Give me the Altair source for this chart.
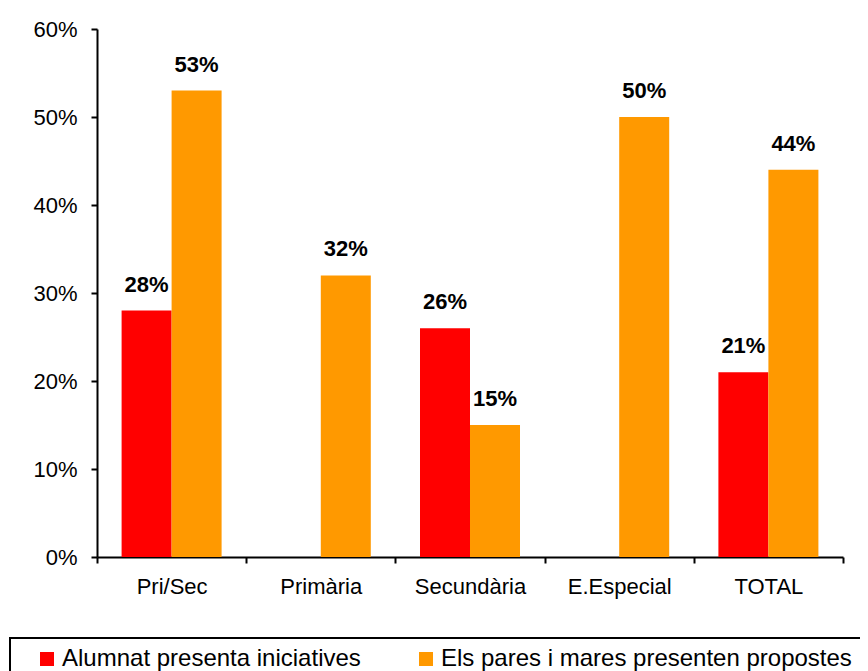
import altair as alt
import pandas as pd

categories = ["Pri/Sec", "Primària", "Secundària", "E.Especial", "TOTAL"]
series_names = ["Alumnat presenta iniciatives", "Els pares i mares presenten propostes"]
alumnat = [0.28, None, 0.26, None, 0.21]
pares = [0.53, 0.32, 0.15, 0.50, 0.44]
colors = ["#FF0000", "#FF9900"]
y_ticks = [0, 0.1, 0.2, 0.3, 0.4, 0.5, 0.6]

rows = []
for c, a, p in zip(categories, alumnat, pares):
    if a is not None:
        rows.append({"cat": c, "serie": series_names[0], "val": a})
    if p is not None:
        rows.append({"cat": c, "serie": series_names[1], "val": p})
df = pd.DataFrame(rows)

FONT = "Liberation Sans"

x_enc = alt.X(
    "cat:N",
    sort=categories,
    scale=alt.Scale(paddingInner=0, paddingOuter=0),
    axis=alt.Axis(
        title=None,
        labelAngle=0,
        tickBand="extent",
        tickSize=6,
        labelPadding=13,
        labelFontSize=22,
        labelFont=FONT,
        labelColor="black",
        domainColor="black",
        tickColor="black",
        domainWidth=2,
        tickWidth=2,
        grid=False,
    ),
)
xoff = alt.XOffset(
    "serie:N",
    sort=series_names,
    scale=alt.Scale(domain=series_names, paddingInner=0, paddingOuter=0.492),
)
y_enc = alt.Y(
    "val:Q",
    scale=alt.Scale(domain=[0, 0.6], nice=False),
    axis=alt.Axis(
        title=None,
        values=y_ticks,
        format=".0%",
        tickSize=6,
        labelPadding=14,
        labelFontSize=22,
        labelFont=FONT,
        labelColor="black",
        domainColor="black",
        tickColor="black",
        domainWidth=2,
        tickWidth=2,
        grid=False,
    ),
)

bars = alt.Chart(df).mark_bar().encode(
    x=x_enc,
    xOffset=xoff,
    y=y_enc,
    color=alt.Color(
        "serie:N",
        sort=series_names,
        scale=alt.Scale(domain=series_names, range=colors),
        legend=alt.Legend(
            title=None,
            orient="none",
            legendX=-87,
            legendY=609,
            direction="horizontal",
            columns=2,
            columnPadding=37,
            symbolType="square",
            symbolSize=196,
            symbolStrokeWidth=0,
            symbolOffset=16,
            labelOffset=3,
            labelFontSize=24,
            labelFont=FONT,
            labelColor="black",
            labelLimit=600,
            strokeColor="black",
            fillColor="white",
            padding=9,
        ),
    ),
)

labels = alt.Chart(df).mark_text(
    dy=-19, baseline="alphabetic", fontSize=22, fontWeight="bold", font=FONT, color="black"
).encode(
    x=alt.X("cat:N", sort=categories),
    xOffset=alt.XOffset("serie:N", sort=series_names),
    y=alt.Y("val:Q"),
    text=alt.Text("val:Q", format=".0%"),
)

chart = (
    alt.layer(bars, labels)
    .properties(
        width=746,
        height=528,
        autosize=alt.AutoSizeParams(type="none"),
        padding={"left": 89, "top": 21, "right": 17, "bottom": 114},
        background="white",
    )
    .configure_view(stroke=None)
    .configure_legend(strokeWidth=2)
)

chart.save("out.html", embed_options={"renderer": "svg", "actions": False})
